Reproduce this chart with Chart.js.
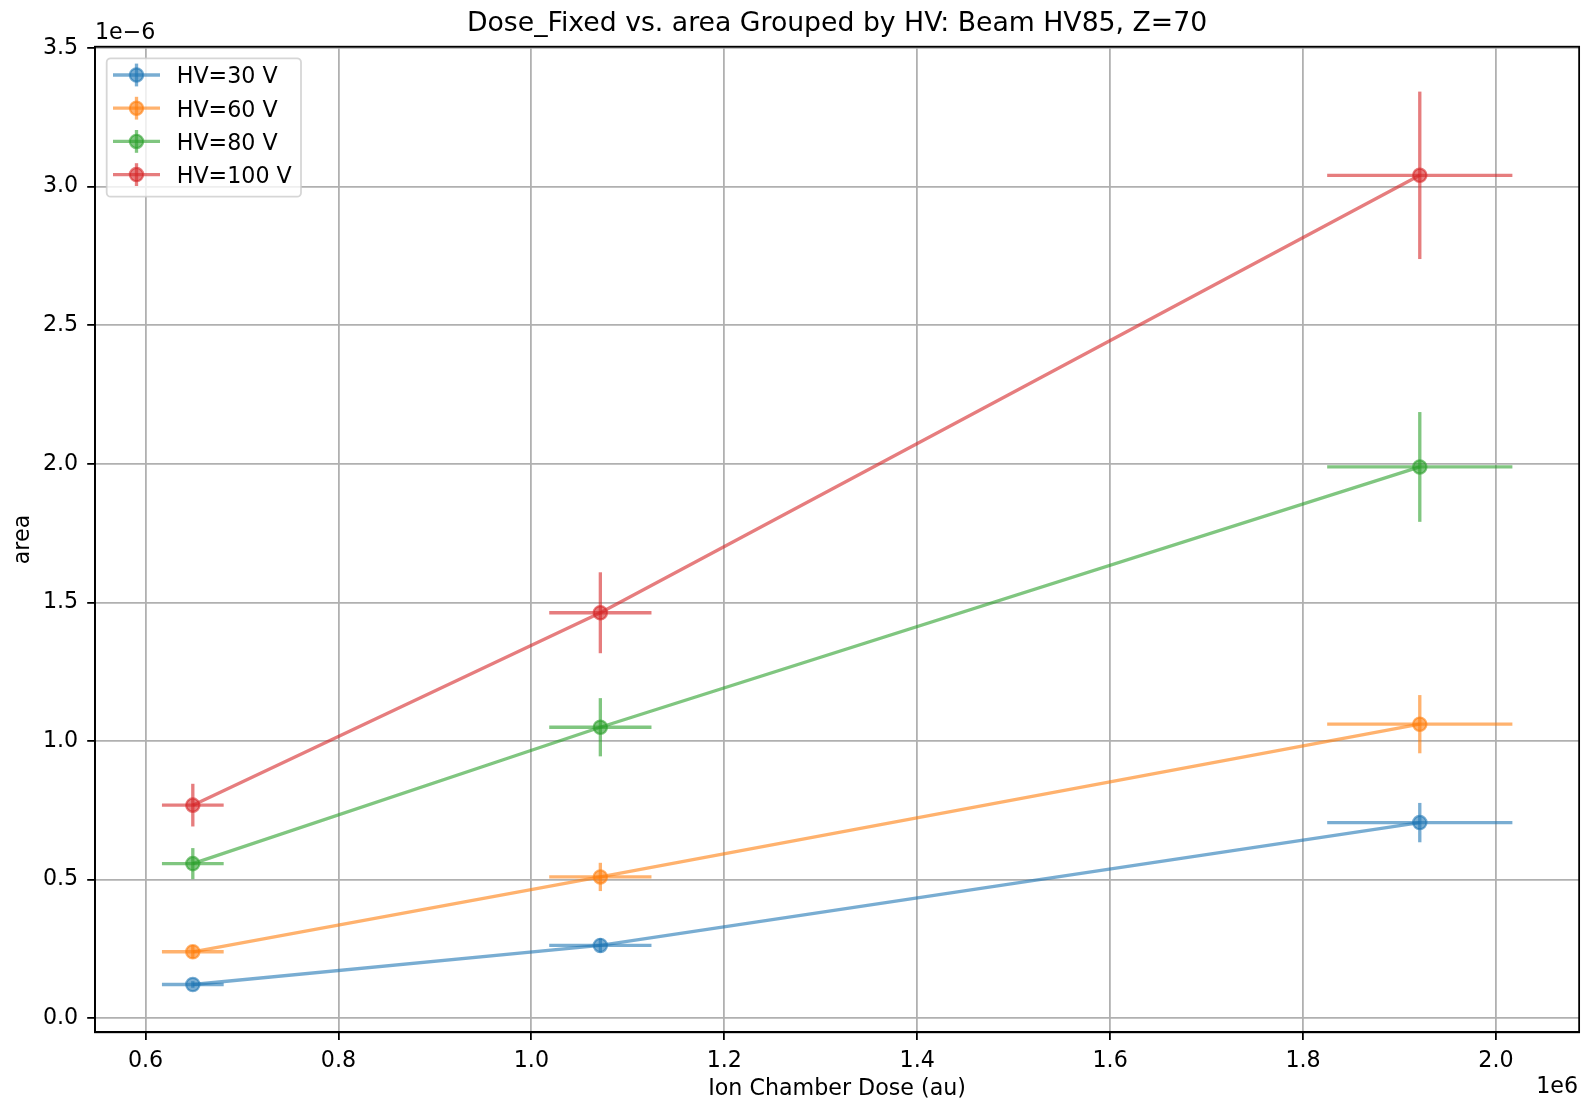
<!DOCTYPE html>
<html>
<head>
<meta charset="utf-8">
<title>Dose_Fixed vs. area</title>
<script src="https://cdn.jsdelivr.net/npm/chart.js@4.4.1/dist/chart.umd.min.js"></script>
<style>
  html, body { margin: 0; padding: 0; background: #fff; }
  #wrap { width: 1588px; height: 1103px; }
</style>
</head>
<body>
<div id="wrap"><canvas id="chart" width="1588" height="1103"></canvas></div>
<script>
// Ion chamber dose, in units of 1e6 (au), with its uncertainty
const doses = [0.649, 1.0715, 1.921];
const doseErr = [0.032, 0.053, 0.096];

// Fitted pulse area per HV setting, in units of 1e-6
const hvLabels = ['HV=30 V', 'HV=60 V', 'HV=80 V', 'HV=100 V'];
const area30 = [0.122, 0.263, 0.706];
const area60 = [0.240, 0.510, 1.061];
const area80 = [0.558, 1.050, 1.989];
const area100 = [0.769, 1.463, 3.041];
const err30 = [0.012, 0.026, 0.071];
const err60 = [0.024, 0.051, 0.105];
const err80 = [0.056, 0.105, 0.198];
const err100 = [0.077, 0.146, 0.302];

const xTicks = [0.6, 0.8, 1.0, 1.2, 1.4, 1.6, 1.8, 2.0];
const yTicks = [0.0, 0.5, 1.0, 1.5, 2.0, 2.5, 3.0, 3.5];

const TAB = [
    'rgba(31, 119, 180, 0.6)',
    'rgba(255, 127, 14, 0.6)',
    'rgba(44, 160, 44, 0.6)',
    'rgba(214, 39, 40, 0.6)',
];

const FONT = '"DejaVu Sans", "Liberation Sans", sans-serif';
const FONT_SIZE = 22.2;
const LINE_W = 3.33;
const GRID_W = 1.78;
const TICK_LEN = 7.8;

Chart.defaults.font.family = FONT;
Chart.defaults.font.size = FONT_SIZE;
Chart.defaults.color = '#000';

function makeSeries(label, values, errs, idx) {
    return {
        label,
        data: doses.map((d, i) => ({ x: d, y: values[i] })),
        xErr: doseErr,
        yErr: errs,
        borderColor: TAB[idx],
        backgroundColor: TAB[idx],
        pointBackgroundColor: TAB[idx],
        pointBorderColor: TAB[idx],
        pointRadius: 6.67,
        pointBorderWidth: 2.2,
        pointHoverRadius: 6.67,
        borderWidth: LINE_W,
        tension: 0,
        fill: false,
        order: 4 - idx,
    };
}

const datasets = [
    makeSeries(hvLabels[0], area30, err30, 0),
    makeSeries(hvLabels[1], area60, err60, 1),
    makeSeries(hvLabels[2], area80, err80, 2),
    makeSeries(hvLabels[3], area100, err100, 3),
];

// error bars drawn right after their own series so stacking stays per series
const errorBars = {
    id: 'errorBars',
    afterDatasetDraw(chart, args) {
        const ds = chart.data.datasets[args.index];
        const { x, y } = chart.scales;
        const ctx = chart.ctx;
        ctx.save();
        ctx.strokeStyle = ds.borderColor;
        ctx.lineWidth = LINE_W;
        ctx.lineCap = 'butt';
        ds.data.forEach((p, i) => {
            const px = x.getPixelForValue(p.x);
            const py = y.getPixelForValue(p.y);
            ctx.beginPath();
            ctx.moveTo(x.getPixelForValue(p.x - ds.xErr[i]), py);
            ctx.lineTo(x.getPixelForValue(p.x + ds.xErr[i]), py);
            ctx.stroke();
            ctx.beginPath();
            ctx.moveTo(px, y.getPixelForValue(p.y - ds.yErr[i]));
            ctx.lineTo(px, y.getPixelForValue(p.y + ds.yErr[i]));
            ctx.stroke();
        });
        ctx.restore();
    },
};

// frame, title, offset texts and the legend box
const decorations = {
    id: 'decorations',
    afterDatasetsDraw(chart) {
        const { ctx, chartArea: a } = chart;
        ctx.save();
        ctx.strokeStyle = '#000';
        ctx.lineWidth = GRID_W;
        ctx.strokeRect(a.left, a.top, a.right - a.left, a.bottom - a.top);
        ctx.restore();
    },
    afterDraw(chart) {
        const { ctx, chartArea: a } = chart;
        ctx.save();
        ctx.fillStyle = '#000';
        ctx.font = '26.7px ' + FONT;
        ctx.textAlign = 'center';
        ctx.textBaseline = 'alphabetic';
        ctx.fillText('Dose_Fixed vs. area Grouped by HV: Beam HV85, Z=70', (a.left + a.right) / 2, 31);

        ctx.font = FONT_SIZE + 'px ' + FONT;
        ctx.textAlign = 'left';
        ctx.fillText('1e\u22126', a.left, 38.5);
        ctx.textAlign = 'right';
        ctx.fillText('1e6', a.right - 1, 1093);

        // legend
        const bx = 106.7, by = 58.3, bw = 194.3, bh = 138.4;
        ctx.beginPath();
        ctx.roundRect(bx, by, bw, bh, 4);
        ctx.fillStyle = 'rgba(255, 255, 255, 0.8)';
        ctx.fill();
        ctx.strokeStyle = 'rgba(204, 204, 204, 0.8)';
        ctx.lineWidth = 1.8;
        ctx.stroke();

        chart.data.datasets.forEach((ds, i) => {
            const ry = 75 + i * 33.2;
            const mx = 136.5;
            ctx.strokeStyle = ds.borderColor;
            ctx.lineWidth = LINE_W;
            ctx.beginPath();
            ctx.moveTo(113, ry);
            ctx.lineTo(160, ry);
            ctx.stroke();
            ctx.beginPath();
            ctx.moveTo(mx, ry - 11.4);
            ctx.lineTo(mx, ry + 11.4);
            ctx.stroke();
            ctx.beginPath();
            ctx.arc(mx, ry, 6.67, 0, Math.PI * 2);
            ctx.fillStyle = ds.backgroundColor;
            ctx.fill();
            ctx.lineWidth = 2.2;
            ctx.stroke();

            ctx.fillStyle = '#000';
            ctx.textAlign = 'left';
            ctx.fillText(ds.label, 176.7, ry + 8.3);
        });
        ctx.restore();
    },
};

new Chart(document.getElementById('chart'), {
    type: 'line',
    data: { datasets },
    plugins: [errorBars, decorations],
    options: {
        responsive: false,
        animation: false,
        devicePixelRatio: 1,
        layout: { padding: { top: 46.7, right: 4.7, bottom: 0, left: 0 } },
        plugins: {
            legend: { display: false },
            title: { display: false },
            tooltip: { enabled: false },
        },
        scales: {
            x: {
                type: 'linear',
                min: 0.5476,
                max: 2.0862,
                afterBuildTicks: (s) => { s.ticks = xTicks.map(v => ({ value: v })); },
                afterFit: (s) => { s.height = 70.7; },
                grid: { color: '#b0b0b0', lineWidth: GRID_W, tickLength: TICK_LEN, tickColor: '#000', tickWidth: GRID_W },
                border: { display: true, color: '#000', width: GRID_W },
                ticks: { padding: 8, color: '#000', maxRotation: 0, autoSkip: false, callback: (v) => Number(v).toFixed(1) },
                title: { display: true, text: 'Ion Chamber Dose (au)', color: '#000', padding: { top: 0, bottom: 0 } },
            },
            y: {
                type: 'linear',
                min: -0.0505,
                max: 3.505,
                afterBuildTicks: (s) => { s.ticks = yTicks.map(v => ({ value: v })); },
                afterFit: (s) => { s.width = 95; },
                grid: { color: '#b0b0b0', lineWidth: GRID_W, tickLength: TICK_LEN, tickColor: '#000', tickWidth: GRID_W },
                border: { display: true, color: '#000', width: GRID_W },
                ticks: { padding: 9, color: '#000', autoSkip: false, callback: (v) => Number(v).toFixed(1) },
                title: { display: true, text: 'area', color: '#000', padding: { top: 10, bottom: 0 } },
            },
        },
    },
});
</script>
</body>
</html>
